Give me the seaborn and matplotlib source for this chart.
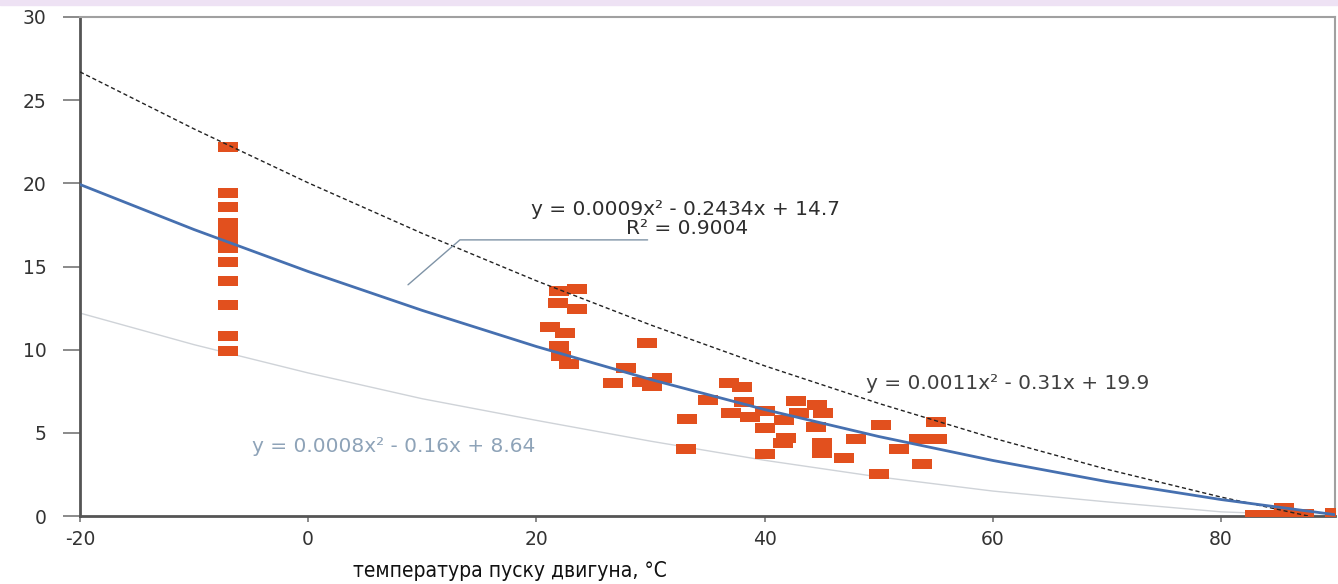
import numpy as np
import pandas as pd
import matplotlib
matplotlib.use("Agg")
import matplotlib.pyplot as plt
from matplotlib.patches import Rectangle
import seaborn as sns

# scatter data: engine start temperature vs value
temp = [-7, -7, -7, -7, -7, -7, -7, -7, -7, -7, -7, -7,
        22.0, 23.6, 21.9, 23.6, 21.2, 22.5, 22.0, 22.2, 22.9,
        29.7, 27.9, 31.0, 26.7, 29.3, 30.1, 35.0, 33.2, 33.1,
        36.9, 38.0, 38.2, 37.1, 38.7, 40.0, 40.0, 41.7, 41.9, 41.6, 40.0,
        42.8, 44.6, 45.1, 43.0, 44.5, 45.0, 45.0, 47.0, 48.0,
        50.2, 50.0, 51.8, 53.8, 53.5, 55.1, 55.0,
        83.0, 84.5, 85.5, 86.0, 87.3, 90.0]
value = [22.2, 19.4, 18.6, 17.6, 17.1, 16.6, 16.1, 15.3, 14.1, 12.7, 10.8, 9.9,
         13.5, 13.65, 12.8, 12.45, 11.35, 11.0, 10.2, 9.6, 9.15,
         10.4, 8.9, 8.3, 8.0, 8.05, 7.8, 7.0, 5.85, 4.0,
         8.0, 7.75, 6.85, 6.2, 5.95, 6.3, 5.3, 5.8, 4.7, 4.4, 3.7,
         6.9, 6.7, 6.2, 6.2, 5.35, 4.4, 3.8, 3.5, 4.6,
         5.5, 2.5, 4.0, 3.1, 4.6, 4.6, 5.65,
         0.05, 0.05, 0.5, 0.05, 0.1, 0.2]

# trend lines
curve_x = [-20, -10, 0, 10, 20, 30, 40, 50, 60, 70, 80, 90]
mid_y = [19.93, 17.22, 14.7, 12.36, 10.19, 8.21, 6.40, 4.78, 3.34, 2.07, 0.99, 0.08]
upper_y = [26.7, 23.27, 20.03, 16.99, 14.14, 11.49, 9.03, 6.77, 4.69, 2.81, 1.14, -0.35]
lower_y = [12.2, 10.3, 8.6, 7.05, 5.75, 4.5, 3.35, 2.35, 1.5, 0.85, 0.25, 0.0]

eq_mid = "y = 0.0009x² - 0.2434x + 14.7"
r2_mid = "R² = 0.9004"
eq_upper = "y = 0.0011x² - 0.31x + 19.9"
eq_lower = "y = 0.0008x² - 0.16x + 8.64"
xlabel = "температура пуску двигуна, °С"

x_ticks = [-20, 0, 20, 40, 60, 80]
y_ticks = [0, 5, 10, 15, 20, 25, 30]

sns.set_style("white")
plt.rcParams['font.family'] = ['DejaVu Sans']
plt.rcParams['axes.unicode_minus'] = False

fig = plt.figure(figsize=(13.38, 5.84), dpi=100)
ax = fig.add_axes([80 / 1338, 1 - 516 / 584, (1335 - 80) / 1338, (516 - 17) / 584])

# lavender strip at the top of the picture
fig.patches.append(Rectangle((0, 1 - 5 / 584), 1, 5 / 584, transform=fig.transFigure,
                             color='#EEE2F4', zorder=0))

sns.lineplot(x=curve_x, y=lower_y, ax=ax, color='#cfd3d8', linewidth=1.0, zorder=2)
sns.lineplot(x=curve_x, y=upper_y, ax=ax, color='#222222', linewidth=1.0,
             linestyle=(0, (3, 2)), zorder=4)
sns.lineplot(x=curve_x, y=mid_y, ax=ax, color='#4670b0', linewidth=2.0, zorder=4)

rect = [(-1, -0.48), (1, -0.48), (1, 0.48), (-1, 0.48)]
df = pd.DataFrame({'temp': temp, 'value': value})
sns.scatterplot(data=df, x='temp', y='value', ax=ax, marker=rect, s=200,
                color='#E2501E', linewidth=0, zorder=3)

# leader line from the middle trend to its equation
ax.plot([8.75, 13.3, 29.75], [13.9, 16.6, 16.6], color='#7f93a6', linewidth=1.0, zorder=5)

ax.text(33.1, 18.4, eq_mid, ha='center', va='center', fontsize=14.5, color='#2e2e2e')
ax.text(33.2, 17.3, r2_mid, ha='center', va='center', fontsize=14.5, color='#2e2e2e')
ax.text(61.3, 7.94, eq_upper, ha='center', va='center', fontsize=14.5, color='#404040', zorder=6)
ax.text(7.5, 4.2, eq_lower, ha='center', va='center', fontsize=14.5, color='#8ea3b8')

ax.set_xlim(-20, 90)
ax.set_ylim(0, 30)
ax.set_xticks(x_ticks)
ax.set_yticks(y_ticks)
ax.set_xlabel('')
ax.set_ylabel('')
ax.tick_params(axis='y', direction='out', length=12, width=1.2, color='#777777',
               labelsize=13.5, labelcolor='#333333', pad=12, left=True)
ax.tick_params(axis='x', direction='out', length=4, width=1.2, color='#777777',
               labelsize=13.5, labelcolor='#333333', pad=6, bottom=True)

ax.spines['left'].set_color('#555555')
ax.spines['left'].set_linewidth(2)
ax.spines['bottom'].set_color('#555555')
ax.spines['bottom'].set_linewidth(2)
ax.spines['top'].set_color('#a0a0a0')
ax.spines['top'].set_linewidth(1.5)
ax.spines['right'].set_color('#a0a0a0')
ax.spines['right'].set_linewidth(1.5)

fig.text(353 / 1338, 1 - 571 / 584, xlabel, ha='left', va='center', fontsize=15,
         color='#111111', family=['Liberation Sans Narrow', 'DejaVu Sans'],
         fontstretch='condensed')

fig.savefig('out.png', dpi=100)
